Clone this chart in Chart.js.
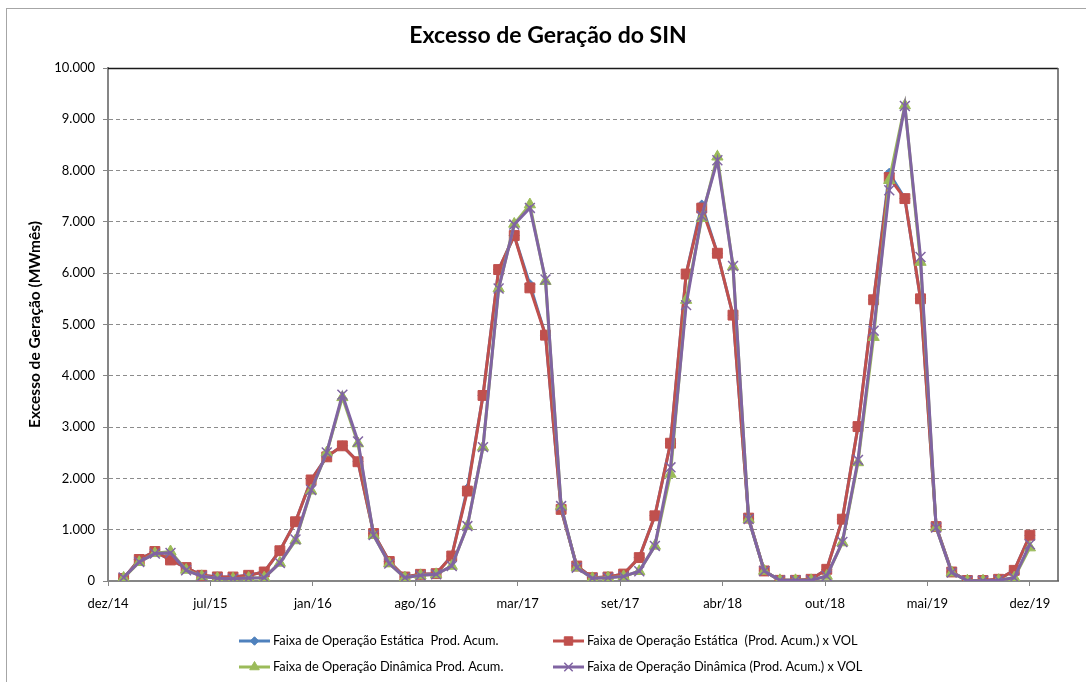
<!DOCTYPE html>
<html>
<head>
<meta charset="utf-8">
<script src="https://cdn.jsdelivr.net/npm/chart.js@4.4.0/dist/chart.umd.min.js"></script>
<style>
  html, body { margin: 0; padding: 0; background: #fff; }
</style>
</head>
<body>
<canvas id="grafico" width="1086" height="682"></canvas>
<script>
const titulo = 'Excesso de Geração do SIN';
const tituloEixoY = 'Excesso de Geração (MWmês)';

const meses = [
  'jan/15','fev/15','mar/15','abr/15','mai/15','jun/15','jul/15','ago/15','set/15','out/15','nov/15','dez/15',
  'jan/16','fev/16','mar/16','abr/16','mai/16','jun/16','jul/16','ago/16','set/16','out/16','nov/16','dez/16',
  'jan/17','fev/17','mar/17','abr/17','mai/17','jun/17','jul/17','ago/17','set/17','out/17','nov/17','dez/17',
  'jan/18','fev/18','mar/18','abr/18','mai/18','jun/18','jul/18','ago/18','set/18','out/18','nov/18','dez/18',
  'jan/19','fev/19','mar/19','abr/19','mai/19','jun/19','jul/19','ago/19','set/19','out/19','nov/19'
];

const rotulosX = ['dez/14','jul/15','jan/16','ago/16','mar/17','set/17','abr/18','out/18','mai/19','dez/19'];

const estaticaProd = [
  50, 420, 575, 410, 262, 111, 80, 78, 111, 176, 590, 1155,
  1970, 2420, 2635, 2325, 925, 380, 78, 130, 143, 487, 1800, 3617,
  6071, 6734, 5780, 4792, 1396, 292, 65, 78, 135, 456, 1271, 2686,
  5984, 7330, 6389, 5183, 1226, 196, 13, 13, 33, 228, 1205, 3010,
  5482, 7950, 7454, 5501, 1061, 176, 10, 10, 33, 208, 892
];
const estaticaVol = [
  50, 420, 575, 410, 262, 111, 80, 78, 111, 176, 590, 1155,
  1970, 2420, 2635, 2325, 925, 380, 78, 130, 143, 487, 1753, 3617,
  6071, 6734, 5714, 4792, 1396, 292, 65, 78, 135, 456, 1271, 2686,
  5984, 7269, 6389, 5183, 1226, 196, 13, 13, 33, 228, 1205, 3010,
  5482, 7865, 7454, 5501, 1061, 176, 10, 10, 33, 208, 892
];
const dinamicaProd = [
  60, 365, 540, 575, 215, 91, 52, 46, 59, 65, 352, 790,
  1760, 2505, 3580, 2680, 894, 339, 65, 110, 130, 292, 1071, 2610,
  5701, 6960, 7338, 5844, 1461, 260, 52, 65, 90, 190, 684, 2086,
  5476, 7073, 8270, 6128, 1206, 196, 13, 13, 13, 98, 750, 2311,
  4753, 7812, 9270, 6217, 1042, 163, 5, 5, 15, 65, 651
];
const dinamicaVol = [
  70, 372, 535, 548, 209, 91, 52, 46, 59, 65, 352, 809,
  1774, 2505, 3633, 2720, 894, 339, 65, 110, 130, 292, 1071, 2610,
  5701, 6948, 7273, 5877, 1461, 260, 52, 65, 90, 190, 684, 2216,
  5378, 7119, 8201, 6141, 1206, 196, 13, 13, 13, 98, 760, 2360,
  4880, 7617, 9260, 6315, 1042, 163, 5, 5, 15, 65, 716
];

const series = [
  { nome: 'Faixa de Operação Estática  Prod. Acum.', dados: estaticaProd, cor: '#4F81BD', marca: 'rectRot', raio: 5, borda: 1 },
  { nome: 'Faixa de Operação Estática  (Prod. Acum.) x VOL', dados: estaticaVol, cor: '#C0504D', marca: 'rect', raio: 7, borda: 1 },
  { nome: 'Faixa de Operação Dinâmica Prod. Acum.', dados: dinamicaProd, cor: '#9BBB59', marca: 'triangle', raio: 6.5, borda: 1 },
  { nome: 'Faixa de Operação Dinâmica (Prod. Acum.) x VOL', dados: dinamicaVol, cor: '#8064A2', marca: 'crossRot', raio: 7, borda: 1.5 }
];

function formatarMilhar(v) {
  return String(v).replace(/\B(?=(\d{3})+(?!\d))/g, '.');
}

Chart.defaults.font.family = 'Lato';

// titulo, moldura e legenda desenhados no canvas
const desenhoExtra = {
  id: 'desenhoExtra',
  beforeDraw(chart) {
    const ctx = chart.ctx;
    ctx.save();
    ctx.fillStyle = '#fff';
    ctx.fillRect(0, 0, chart.width, chart.height);
    ctx.strokeStyle = '#a6a6a6';
    ctx.lineWidth = 1;
    ctx.strokeRect(6.5, 8.5, chart.width + 10, chart.height + 10);
    ctx.restore();
  },
  beforeDatasetsDraw(chart) {
    const { ctx, chartArea: a } = chart;
    ctx.save();
    ctx.lineWidth = 1.5;
    ctx.strokeStyle = '#1a1a1a';
    ctx.beginPath();
    ctx.moveTo(a.left, a.top + 0.5);
    ctx.lineTo(a.right, a.top + 0.5);
    ctx.stroke();
    ctx.strokeStyle = '#595959';
    ctx.beginPath();
    ctx.moveTo(a.right, a.top);
    ctx.lineTo(a.right, a.bottom);
    ctx.stroke();
    ctx.restore();
  },
  afterDraw(chart) {
    const ctx = chart.ctx;
    ctx.save();
    ctx.fillStyle = '#000';
    ctx.font = 'bold 23px Lato';
    ctx.textAlign = 'center';
    ctx.textBaseline = 'middle';
    ctx.fillText(titulo, 548, 36);

    const colunas = [239, 553];
    const linhas = [641, 667];
    ctx.font = '12.8px Lato';
    ctx.textAlign = 'left';
    series.forEach((s, i) => {
      const x0 = colunas[i % 2];
      const y = linhas[Math.floor(i / 2)];
      ctx.strokeStyle = s.cor;
      ctx.fillStyle = s.cor;
      ctx.lineWidth = 3;
      ctx.beginPath();
      ctx.moveTo(x0, y);
      ctx.lineTo(x0 + 31, y);
      ctx.stroke();
      ctx.lineWidth = s.borda;
      Chart.helpers.drawPoint(ctx, { pointStyle: s.marca, radius: s.raio * 0.85, rotation: 0, borderWidth: s.borda }, x0 + 15.5, y);
      ctx.fillStyle = '#000';
      ctx.fillText(s.nome, x0 + 34, y);
    });
    ctx.restore();
  }
};

const ultimo = meses.length;
const posTicks = rotulosX.map((_, k) => k * ultimo / (rotulosX.length - 1));

new Chart(document.getElementById('grafico'), {
  type: 'line',
  data: {
    datasets: series.map((s, i) => ({
      label: s.nome,
      data: s.dados.map((v, j) => ({ x: j + 1, y: v })),
      borderColor: s.cor,
      backgroundColor: s.cor,
      borderWidth: 3,
      pointStyle: s.marca,
      pointRadius: s.raio,
      pointBorderWidth: s.borda,
      pointBackgroundColor: s.cor,
      pointBorderColor: s.cor,
      tension: 0,
      order: series.length - i
    }))
  },
  options: {
    responsive: false,
    animation: false,
    layout: { padding: { left: 0, top: 68, right: 28, bottom: 61 } },
    plugins: {
      legend: { display: false },
      title: { display: false },
      tooltip: { enabled: false }
    },
    scales: {
      x: {
        type: 'linear',
        min: 0,
        max: 60.8,
        afterBuildTicks: (scale) => { scale.ticks = posTicks.map(v => ({ value: v })); },
        afterFit: (scale) => { scale.height = 40; },
        ticks: {
          autoSkip: false,
          maxRotation: 0,
          padding: 10,
          color: '#000',
          font: { size: 13 },
          callback: (v, i) => rotulosX[i]
        },
        grid: { drawOnChartArea: false, tickLength: 5, tickColor: '#868686', lineWidth: 1 },
        border: { color: '#868686', width: 2 }
      },
      y: {
        min: 0,
        max: 10000,
        afterFit: (scale) => { scale.width = 108; },
        ticks: {
          stepSize: 1000,
          padding: 8,
          color: '#000',
          font: { size: 13 },
          callback: (v) => formatarMilhar(v)
        },
        grid: { color: '#8c8c8c', lineWidth: 1, tickLength: 5, tickColor: '#868686', tickBorderDash: [] },
        border: { color: '#868686', width: 2, dash: [4, 3] },
        title: {
          display: true,
          text: tituloEixoY,
          color: '#000',
          font: { size: 15.5, weight: 'bold' },
          padding: { top: 25.7, bottom: 0 }
        }
      }
    }
  },
  plugins: [desenhoExtra]
});
</script>
</body>
</html>
